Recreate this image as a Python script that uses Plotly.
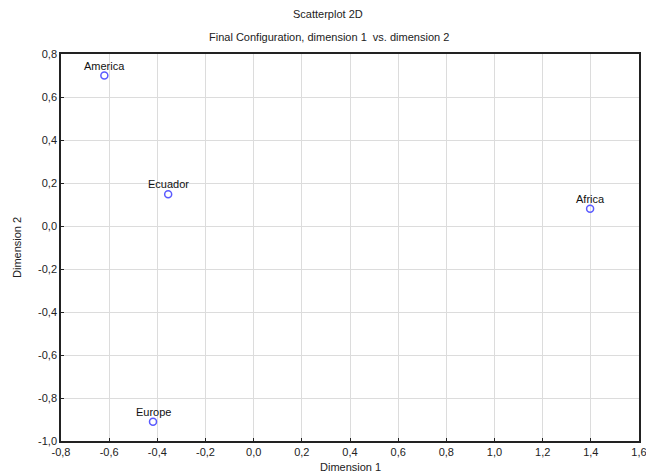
import plotly.graph_objects as go

labels = ["America", "Ecuador", "Africa", "Europe"]
dim1 = [-0.62, -0.355, 1.397, -0.418]
dim2 = [0.70, 0.148, 0.08, -0.91]

x_ticks = [-0.8, -0.6, -0.4, -0.2, 0.0, 0.2, 0.4, 0.6, 0.8, 1.0, 1.2, 1.4, 1.6]
x_tick_labels = ["-0,8", "-0,6", "-0,4", "-0,2", "0,0", "0,2", "0,4", "0,6", "0,8", "1,0", "1,2", "1,4", "1,6"]
y_ticks = [-1.0, -0.8, -0.6, -0.4, -0.2, 0.0, 0.2, 0.4, 0.6, 0.8]
y_tick_labels = ["-1,0", "-0,8", "-0,6", "-0,4", "-0,2", "0,0", "0,2", "0,4", "0,6", "0,8"]

FONT = "Arial, Liberation Sans, sans-serif"

fig = go.Figure()
fig.add_trace(go.Scatter(
    x=dim1, y=dim2, mode="markers",
    marker=dict(symbol="circle-open", size=7, color="#5a5aff", line=dict(width=1.5)),
    cliponaxis=False, showlegend=False,
))
for lab, xv, yv in zip(labels, dim1, dim2):
    fig.add_annotation(x=xv, y=yv, text=lab, showarrow=False, yshift=10,
                       xanchor="center", yanchor="middle",
                       font=dict(family=FONT, size=11, color="#111"))

L, R, T, B = 61, 7, 54, 35
PW, PH = 646 - L - R, 476 - T - B
fig.update_layout(
    width=646, height=476,
    margin=dict(l=L, r=R, t=T, b=B, autoexpand=False),
    paper_bgcolor="white", plot_bgcolor="white",
    font=dict(family=FONT, size=11, color="#222"),
)
fig.add_annotation(text="Scatterplot 2D", xref="paper", yref="paper", x=(328 - L) / PW, y=(476 - B - 14) / PH,
                   showarrow=False, font=dict(size=11, color="#222"), xanchor="center", yanchor="middle")
fig.add_annotation(text="Final Configuration, dimension 1  vs. dimension 2", xref="paper", yref="paper",
                   x=(329 - L) / PW, y=(476 - B - 37) / PH, showarrow=False,
                   font=dict(size=11, color="#222"), xanchor="center", yanchor="middle")
fig.add_annotation(text="Dimension 1", xref="paper", yref="paper", x=(350 - L) / PW, y=(476 - B - 467) / PH,
                   showarrow=False, font=dict(size=11, color="#222"), xanchor="center", yanchor="middle")
fig.add_annotation(text="Dimension 2", xref="paper", yref="paper", x=(17 - L) / PW, y=(476 - B - 248) / PH,
                   showarrow=False, textangle=-90, font=dict(size=11, color="#222"),
                   xanchor="center", yanchor="middle")
fig.update_xaxes(
    range=[-0.8, 1.6], tickvals=x_ticks, ticktext=x_tick_labels, automargin=False,
    ticklabeloverflow="allow",
    showgrid=True, gridcolor="#dcdcdc", gridwidth=1,
    showline=True, linecolor="#222", linewidth=1.5, mirror=True,
    ticks="inside", ticklen=3, tickcolor="#222", zeroline=False,
    tickfont=dict(size=11),
)
fig.update_yaxes(
    range=[-1.0, 0.8], tickvals=y_ticks, ticktext=y_tick_labels, automargin=False,
    ticklabeloverflow="allow",
    showgrid=True, gridcolor="#dcdcdc", gridwidth=1,
    showline=True, linecolor="#222", linewidth=1.5, mirror=True,
    ticks="inside", ticklen=3, tickcolor="#222", zeroline=False,
    tickfont=dict(size=11),
)
fig.write_html("out.html", config={"displayModeBar": False},
               post_script="document.body.style.margin='0';document.body.style.overflow='hidden';")
